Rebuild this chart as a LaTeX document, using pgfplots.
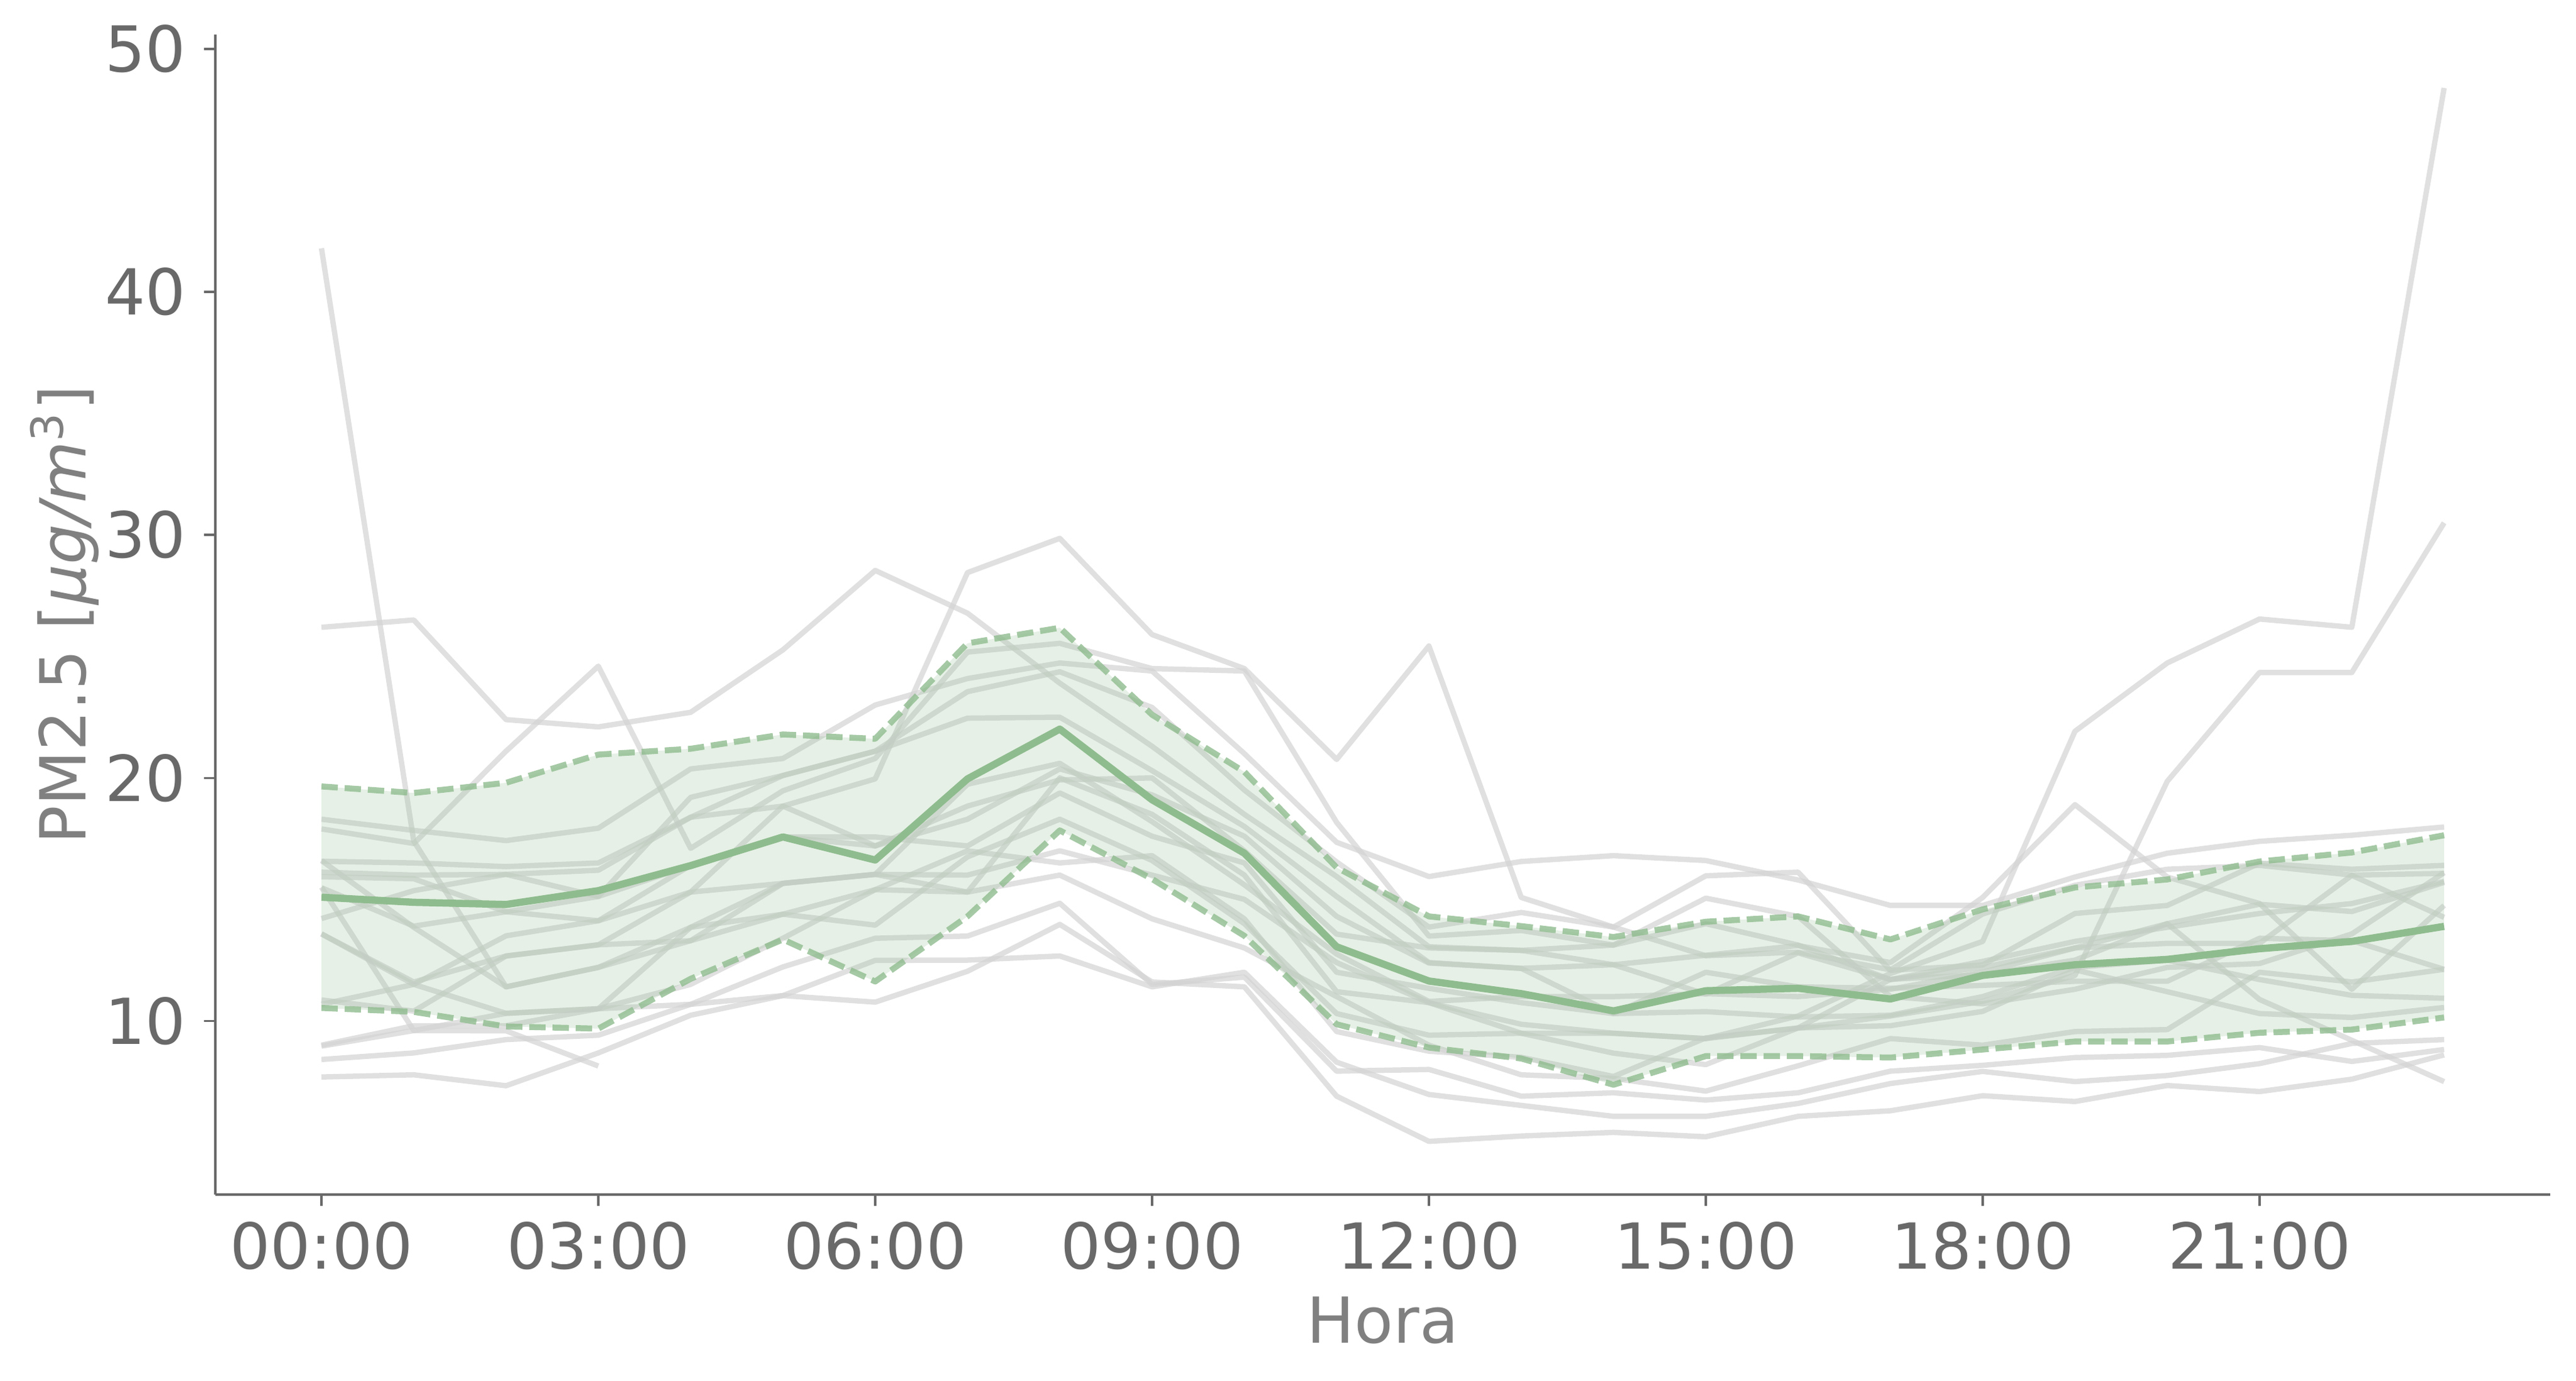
\documentclass[border=0pt]{standalone}
\usepackage{fontspec}
\setmainfont{DejaVu Sans}
\usepackage{pgfplots}
\usepackage{pgfplotstable}
\pgfplotsset{compat=1.18}

\definecolor{tickgray}{RGB}{105,105,105}
\definecolor{labgray}{RGB}{128,128,128}
\definecolor{seagreen}{RGB}{143,188,143}
\definecolor{lgray}{RGB}{211,211,211}
\newcommand\fs{\fontsize{10.1pt}{12pt}\selectfont}

% one column per day
\pgfplotstableread{
h g1 g2 g3 g4 g5 g6 g7 g8 g10 g11 g12 g13 g14 g15 g16 g17 g18 g19
0 41.8 26.2 17.9 16.12 8.96 13.58 15.48 7.69 8.41 9.0 10.86 10.68 13.58 18.3 16.57 14.21 16.6 15.93
1 17.4 26.5 17.3 16.0 9.6 11.6 13.9 7.78 8.68 9.8 10.4 11.5 11.5 17.84 16.5 15.36 13.85 15.85
2 11.4 22.4 21.1 16.03 10.31 12.67 14.49 7.33 9.23 9.8 12.67 10.31 13.5 17.42 16.35 16.03 11.4 14.49
3 12.2 22.1 24.6 16.2 10.5 13.13 15.12 8.68 9.41 10.5 13.13 10.5 14.12 17.93 16.5 15.12 12.2 14.12
4 13.85 22.7 17.1 18.38 11.5 13.3 19.2 10.23 10.68 10.68 15.3 13.85 15.3 20.37 18.38 16.4 13.3 16.4
5 15.66 25.27 19.47 18.84 13.4 14.39 20.1 11.04 11.04 12.22 15.66 14.39 18.84 20.8 20.1 17.57 15.66 17.57
6 16.03 28.54 20.8 19.96 15.4 15.4 21.1 10.77 12.49 13.4 16.03 13.94 17.2 23.0 21.1 17.57 16.03 17.2
7 19.74 26.78 25.18 28.45 15.3 17.0 22.46 12.04 12.5 13.49 15.3 16.75 18.3 24.09 23.55 17.2 16.0 18.84
8 20.6 23.9 25.54 29.86 20.0 16.5 22.5 13.97 12.67 14.84 16.0 18.3 20.37 24.73 24.37 19.38 17.0 19.92
9 18.2 21.3 24.5 25.9 18.5 16.8 20.3 11.6 11.4 11.5 14.2 16.6 19.3 24.4 22.9 17.6 16.0 20.0
10 15.6 18.5 24.4 24.5 16.0 14.2 18.0 11.4 12.0 11.8 13.0 14.0 17.6 21.0 19.5 16.5 15.0 17.0
11 12.75 15.94 18.17 20.76 11.2 9.56 15.12 6.9 8.3 7.93 11.0 10.3 14.3 17.35 16.54 12.0 12.4 13.57
12 10.8 13.05 13.49 25.43 10.75 8.75 12.4 5.04 6.97 8.0 9.0 9.41 12.38 15.94 13.86 11.34 10.75 13.0
13 11.0 12.9 13.72 15.08 9.86 8.5 12.16 5.26 6.52 6.9 7.78 9.49 12.16 16.56 14.46 10.75 9.49 12.9
14 11.0 12.31 13.12 13.86 9.49 7.71 12.31 5.41 6.07 7.04 7.63 8.67 10.3 16.8 13.86 10.3 9.49 13.12
15 11.12 11.1 14.0 12.68 9.27 9.3 12.7 5.23 6.07 6.74 7.11 8.2 10.38 16.6 15.97 12.0 9.27 15.05
16 11.0 12.8 13.12 12.83 10.2 9.7 13.1 6.07 6.6 7.04 8.15 9.71 10.16 15.8 16.12 11.4 9.71 14.3
17 11.3 11.7 11.7 12.1 11.95 10.2 12.4 6.3 7.42 7.93 9.27 9.8 10.23 14.75 12.08 11.34 11.71 11.0
18 12.0 12.2 12.45 14.4 13.27 10.8 15.08 6.92 7.92 8.17 9.0 10.39 11.0 14.75 12.3 11.46 11.9 10.7
19 13.0 13.0 13.27 15.58 21.92 11.87 18.9 6.68 7.5 8.49 9.56 12.1 12.2 15.92 14.42 11.63 12.5 11.3
20 14.0 13.19 13.85 16.24 24.73 19.86 15.92 7.34 7.75 8.58 9.64 11.2 12.5 16.9 14.75 11.63 14.0 12.2
21 14.8 13.19 14.42 16.4 26.54 24.34 14.83 7.09 8.24 8.9 12.0 10.3 11.7 17.39 16.49 13.4 10.88 12.36
22 14.5 15.99 14.83 16.0 26.2 24.34 11.3 7.6 9.07 8.33 11.6 10.14 11.05 17.64 16.24 13.3 9.2 13.58
23 15.7 14.26 15.74 16.07 48.4 30.5 14.75 8.6 9.23 8.82 12.12 10.55 10.93 17.98 16.4 12.12 7.5 16.1
}\days

% a day whose record stops at 03:00
\pgfplotstableread{
h g9
0 15.5
1 9.6
2 9.59
3 8.14
}\short

\pgfplotstableread{
h mean up lo
0 15.09 19.65 10.53
1 14.88 19.38 10.37
2 14.79 19.80 9.77
3 15.36 20.96 9.68
4 16.39 21.20 11.73
5 17.57 21.79 13.35
6 16.62 21.61 11.62
7 19.96 25.54 14.30
8 22.01 26.18 17.84
9 19.10 22.60 15.84
10 16.90 20.25 13.50
11 13.05 16.31 9.86
12 11.64 14.30 8.90
13 11.12 13.90 8.45
14 10.41 13.45 7.37
15 11.24 14.08 8.55
16 11.34 14.30 8.55
17 10.90 13.35 8.49
18 11.87 14.59 8.82
19 12.31 15.49 9.15
20 12.53 15.82 9.15
21 12.97 16.56 9.51
22 13.27 16.93 9.64
23 13.89 17.64 10.14
}\stats

% outline of the band: upper bound forward, lower bound back
\pgfplotstableread{
h v
0 19.65
1 19.38
2 19.80
3 20.96
4 21.20
5 21.79
6 21.61
7 25.54
8 26.18
9 22.60
10 20.25
11 16.31
12 14.30
13 13.90
14 13.45
15 14.08
16 14.30
17 13.35
18 14.59
19 15.49
20 15.82
21 16.56
22 16.93
23 17.64
23 10.14
22 9.64
21 9.51
20 9.15
19 9.15
18 8.82
17 8.49
16 8.55
15 8.55
14 7.37
13 8.45
12 8.90
11 9.86
10 13.50
9 15.84
8 17.84
7 14.30
6 11.62
5 13.35
4 11.73
3 9.68
2 9.77
1 10.37
0 10.53
}\band

\begin{document}
\begin{tikzpicture}
\useasboundingbox (0,0) rectangle (410.3pt,219.9pt);
\begin{axis}[
  at={(34.3pt,29.6pt)}, anchor=south west,
  scale only axis, width=371.9pt, height=184.8pt,
  xmin=-1.15, xmax=24.15, ymin=2.85, ymax=50.6,
  axis lines=left,
  axis line style={-, draw=tickgray, line width=0.45pt},
  tick align=outside, major tick length=1.8pt,
  tick style={draw=tickgray, line width=0.35pt},
  xtick={0,3,...,21},
  xticklabels={00:00,03:00,06:00,09:00,12:00,15:00,18:00,21:00},
  ytick={10,20,30,40,50},
  /pgf/number format/assume math mode=true,
  tick label style={font=\fs, text=tickgray, inner sep=0pt},
  xticklabel style={yshift=-2.4pt},
  yticklabel style={xshift=-2.7pt},
  xlabel={Hora},
  ylabel={PM2.5 [{\itshape μg/m}\textsuperscript{3}]},
  label style={font=\fs, text=labgray, inner sep=0pt},
  xlabel style={at={(axis description cs:0.5,0)}, anchor=north, yshift=-16.1pt},
  ylabel style={at={(axis description cs:0,0.5)}, anchor=base, yshift=20.6pt},
  every axis plot/.append style={line join=round},
]
\foreach \c in {g1,g2,g3,g4,g5,g6,g7,g8,g10,g11,g12,g13,g14,g15,g16,g17,g18,g19}{
  \addplot[draw=lgray, draw opacity=0.7, line width=0.85pt, no markers]
    table[x=h, y=\c] {\days};
}
\addplot[draw=lgray, draw opacity=0.7, line width=0.85pt, no markers]
  table[x=h, y=g9] {\short};
\addplot[fill=seagreen, fill opacity=0.22, draw=none] table[x=h, y=v] {\band} -- cycle;
\addplot[draw=seagreen, draw opacity=0.8, line width=0.95pt,
  dash pattern=on 2.6pt off 1.1pt, no markers] table[x=h, y=up] {\stats};
\addplot[draw=seagreen, draw opacity=0.8, line width=0.95pt,
  dash pattern=on 2.6pt off 1.1pt, no markers] table[x=h, y=lo] {\stats};
\addplot[draw=seagreen, line width=1.15pt, no markers] table[x=h, y=mean] {\stats};
\end{axis}
\end{tikzpicture}
\end{document}
